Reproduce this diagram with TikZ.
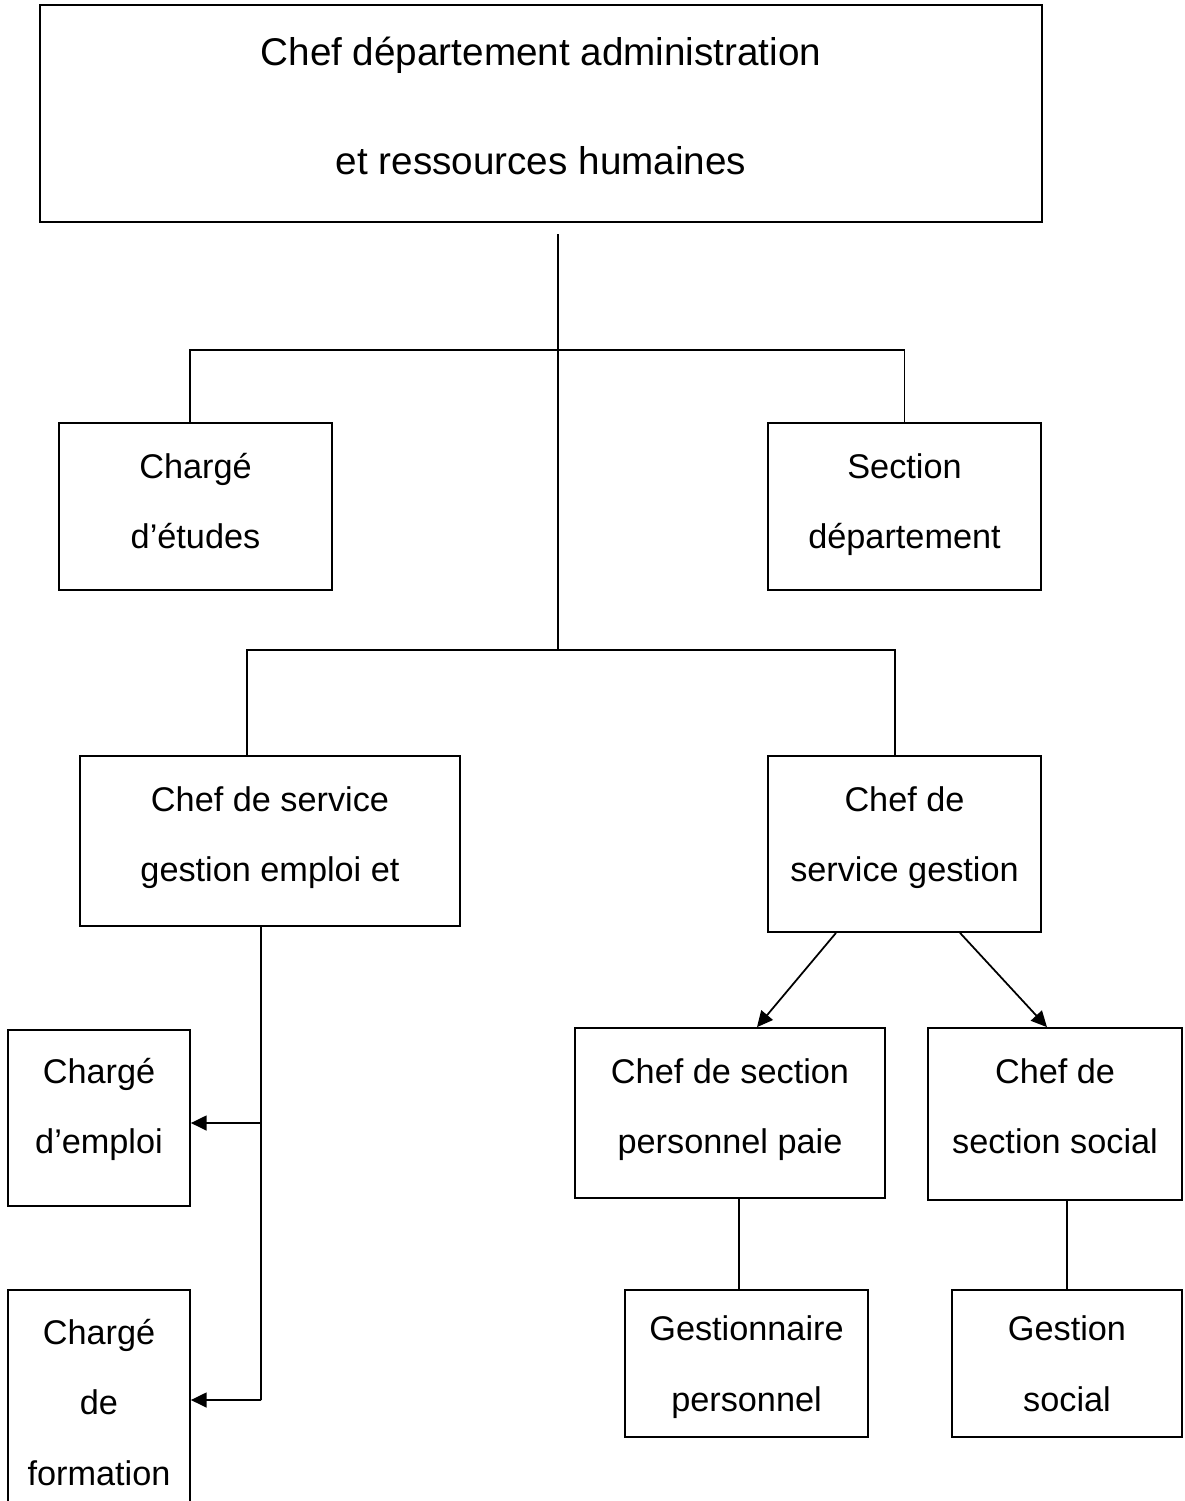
\documentclass[tikz,border=0pt]{standalone}
\usepackage{fontspec}
\setmainfont{Liberation Sans}
\usetikzlibrary{arrows.meta,calc}
\tikzset{
  box/.style   = {draw, line width=1pt, align=center, inner sep=0pt,
                  font=\fontsize{19.5}{40}\selectfont},
  headb/.style = {box, font=\fontsize{22}{62.4}\selectfont},
  link/.style  = {line width=1pt},
  arr/.style   = {link, -{Triangle[length=9pt,width=8.5pt]}},
}
\begin{document}
\begin{tikzpicture}[x=0.02cm,y=-0.02cm]
\useasboundingbox (0,0) rectangle (1184,1501);

% ---- head ----
\node[headb, minimum width=20.04cm, minimum height=4.34cm, text depth=9pt] (chef) at (541,113.5)
      {Chef département administration\\et ressources humaines};
\coordinate (trunk) at (558,234);
\coordinate (bus1) at (558,350);
\coordinate (bus2) at (558,650);
\draw[link] (trunk) -- (bus2);

% ---- first level ----
\node[box, minimum width=5.46cm, minimum height=3.34cm, text depth=6.8pt] (etudes) at (195.5,506.5)
      {Chargé\\d’études};
\node[box, minimum width=5.46cm, minimum height=3.34cm, text depth=6.3pt] (secdep) at (904.5,506.5)
      {Section\\département};
\draw[link] ([xshift=-0.11cm]etudes.north) |- (bus1) -| (secdep.north);

% ---- services ----
\node[box, minimum width=7.6cm, minimum height=3.4cm, text depth=8.1pt] (svcemploi) at (270,841)
      {Chef de service\\gestion emploi et};
\node[box, minimum width=5.46cm, minimum height=3.52cm, text depth=11.5pt] (svcgest) at (904.5,844)
      {Chef de\\service gestion};
\draw[link] ([xshift=-0.46cm]svcemploi.north) |- (bus2) -| ([xshift=-0.19cm]svcgest.north);

% ---- left branch ----
\node[box, minimum width=3.64cm, minimum height=3.52cm, text depth=13.7pt] (emploi) at (99,1118)
      {Chargé\\d’emploi};
\node[box, minimum width=3.64cm, minimum height=4.52cm, text depth=1pt] (formation) at (99,1403)
      {Chargé\\de\\formation};
\coordinate (branch) at (261,1123);
\coordinate (spine) at (261,1400);
\draw[link] ([xshift=-0.18cm]svcemploi.south) -- (spine);
\draw[arr] (branch) -- (branch -| emploi.east);
\draw[arr] (spine) -- (spine -| formation.east);

% ---- right branch ----
\node[box, minimum width=6.2cm, minimum height=3.4cm, text depth=7.5pt] (paie) at (730,1113)
      {Chef de section\\personnel paie};
\node[box, minimum width=5.08cm, minimum height=3.44cm, text depth=9pt] (social) at (1055,1114)
      {Chef de\\section social};
\draw[arr] ([xshift=-1.37cm]svcgest.south) -- ([xshift=0.54cm]paie.north);
\draw[arr] ([xshift=1.11cm]svcgest.south) -- ([xshift=-0.16cm]social.north);

\node[box, minimum width=4.86cm, minimum height=2.94cm, text depth=-2.7pt] (gestpers) at (746.5,1363.5)
      {Gestionnaire\\personnel};
\node[box, minimum width=4.6cm, minimum height=2.94cm, text depth=-3.4pt] (gestsoc) at (1067,1363.5)
      {Gestion\\social};
\draw[link] ([xshift=0.18cm]paie.south) -- ([xshift=0.18cm]paie.south |- gestpers.north);
\draw[link] (gestsoc.north |- social.south) -- (gestsoc.north);

\end{tikzpicture}
\end{document}
